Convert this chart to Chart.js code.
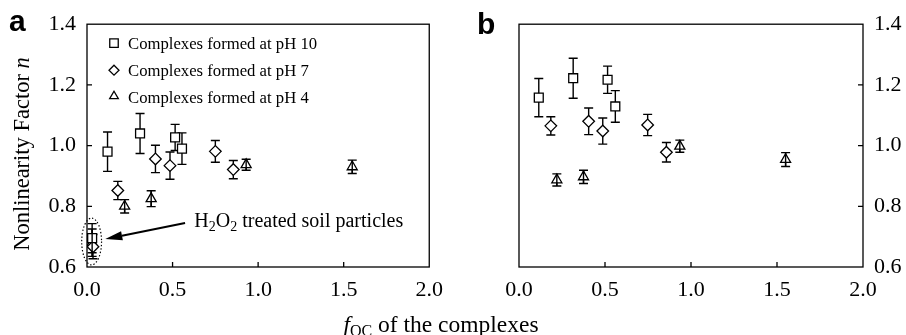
<!DOCTYPE html>
<html>
<head>
<meta charset="utf-8">
<script src="https://cdn.jsdelivr.net/npm/chart.js@4.4.1/dist/chart.umd.min.js"></script>
<style>
html,body{margin:0;padding:0;background:#fff;}
#wrap{position:relative;width:906px;height:335px;overflow:hidden;background:#fff;}
canvas{position:absolute;top:0;}
#ca{left:0;}
#cb{left:453px;}
#xt{position:absolute;left:-12px;width:906px;top:313px;text-align:center;font-family:"Liberation Serif",serif;font-size:23.5px;line-height:22px;color:#000;white-space:nowrap;}
#xt sub{font-size:16px;vertical-align:-4px;line-height:0;}
</style>
</head>
<body>
<div id="wrap">
<canvas id="ca" width="453" height="335"></canvas>
<canvas id="cb" width="453" height="335"></canvas>
<div id="xt"><i>f</i><sub>OC</sub> of the complexes</div>
</div>
<script>
// ---- tick labels ----
const xTicks = [0.0, 0.5, 1.0, 1.5, 2.0];
const yTicks = [0.6, 0.8, 1.0, 1.2, 1.4];

// ---- series labels ----
const seriesNames = ["Complexes formed at pH 10", "Complexes formed at pH 7", "Complexes formed at pH 4"];

// ---- panel a ----
const a_pH10_x   = [0.03, 0.12, 0.31, 0.515, 0.555];
const a_pH10_n   = [0.695, 0.98, 1.04, 1.027, 0.99];
const a_pH10_err = [0.048, 0.065, 0.066, 0.043, 0.052];

const a_pH7_x    = [0.035, 0.18, 0.40, 0.485, 0.75, 0.855];
const a_pH7_n    = [0.667, 0.852, 0.956, 0.934, 0.981, 0.921];
const a_pH7_err  = [0.04, 0.03, 0.045, 0.045, 0.036, 0.03];

const a_pH4_x    = [0.03, 0.22, 0.375, 0.93, 1.55];
const a_pH4_n    = [0.68, 0.80, 0.825, 0.937, 0.93];
const a_pH4_err  = [0.045, 0.022, 0.026, 0.018, 0.022];

// ---- panel b ----
const b_pH10_x   = [0.115, 0.315, 0.515, 0.56];
const b_pH10_n   = [1.158, 1.222, 1.217, 1.129];
const b_pH10_err = [0.063, 0.066, 0.045, 0.052];

const b_pH7_x    = [0.185, 0.405, 0.487, 0.748, 0.857];
const b_pH7_n    = [1.065, 1.08, 1.048, 1.068, 0.978];
const b_pH7_err  = [0.03, 0.044, 0.043, 0.035, 0.032];

const b_pH4_x    = [0.22, 0.375, 0.935, 1.55];
const b_pH4_n    = [0.887, 0.897, 0.998, 0.954];
const b_pH4_err  = [0.02, 0.022, 0.02, 0.023];

// ---- annotation (panel a) in data units ----
const noteAnchor = {x: 0.627, y: 0.731};
const arrowFrom  = {x: 0.573, y: 0.745};
const arrowTo    = {x: 0.107, y: 0.692};
const ellipseC   = {x: 0.027, y: 0.684, rx: 0.058, ry: 0.077};

const SERIF = '"Liberation Serif", "Times New Roman", serif';
const styles = ['rect', 'rectRot', 'triangle'];
const radii = [6.3, 5.8, 5.8];

function pts(xs, ys){ return xs.map((v,i)=>({x:v, y:ys[i]})); }
function makeDs(xs, ys, errs, k){
  return {
    label: seriesNames[k],
    data: pts(xs, ys),
    errors: errs,
    showLine: false,
    pointStyle: styles[k],
    pointRadius: radii[k],
    pointHoverRadius: radii[k],
    pointBorderWidth: 1.3,
    borderColor: '#000',
    backgroundColor: '#fff'
  };
}

function drawErr(chart, onlyStem, filter){
  const ctx = chart.ctx, xs = chart.scales.x, ys = chart.scales.y;
  ctx.save();
  ctx.strokeStyle = '#000';
  ctx.lineWidth = 1.4;
  chart.data.datasets.forEach((ds, k)=>{
    if (!filter(k)) return;
    ds.data.forEach((p,i)=>{
      const e = ds.errors[i];
      const px = xs.getPixelForValue(p.x);
      const y1 = ys.getPixelForValue(p.y + e), y2 = ys.getPixelForValue(p.y - e);
      ctx.beginPath();
      ctx.moveTo(px, y1); ctx.lineTo(px, y2);
      if (!onlyStem){
        ctx.moveTo(px-4.5, y1); ctx.lineTo(px+4.5, y1);
        ctx.moveTo(px-4.5, y2); ctx.lineTo(px+4.5, y2);
      }
      ctx.stroke();
    });
  });
  ctx.restore();
}

const errBars = {
  id: 'errBars',
  beforeDatasetsDraw(chart){ drawErr(chart, false, ()=>true); },
  afterDatasetsDraw(chart){ drawErr(chart, true, k=>k===2); }
};

function drawMarker(ctx, style, x, y, r){
  ctx.beginPath();
  if (style === 'rect'){
    const s = r*Math.SQRT1_2;
    ctx.rect(x-s, y-s, 2*s, 2*s);
  } else if (style === 'rectRot'){
    ctx.moveTo(x, y-r); ctx.lineTo(x+r, y); ctx.lineTo(x, y+r); ctx.lineTo(x-r, y); ctx.closePath();
  } else {
    ctx.moveTo(x, y-r);
    ctx.lineTo(x + r*Math.sin(2*Math.PI/3), y - r*Math.cos(2*Math.PI/3));
    ctx.lineTo(x - r*Math.sin(2*Math.PI/3), y - r*Math.cos(2*Math.PI/3));
    ctx.closePath();
  }
  ctx.fillStyle = '#fff'; ctx.fill();
  ctx.lineWidth = 1.3; ctx.strokeStyle = '#000'; ctx.stroke();
}

const frame = {
  id: 'frame',
  afterDraw(chart, args, opts){
    const ctx = chart.ctx, ca = chart.chartArea;
    const xs = chart.scales.x, ys = chart.scales.y;
    ctx.save();
    ctx.strokeStyle = '#000';
    ctx.lineWidth = 1.3;
    ctx.strokeRect(ca.left, ca.top, ca.right-ca.left, ca.bottom-ca.top);
    // inward ticks
    ctx.beginPath();
    xTicks.slice(1, -1).forEach(v=>{
      const px = xs.getPixelForValue(v);
      ctx.moveTo(px, ca.bottom); ctx.lineTo(px, ca.bottom-5);
    });
    yTicks.slice(1, -1).forEach(v=>{
      const py = ys.getPixelForValue(v);
      if (opts.side === 'left'){ ctx.moveTo(ca.left, py); ctx.lineTo(ca.left+5, py); }
      else { ctx.moveTo(ca.right, py); ctx.lineTo(ca.right-5, py); }
    });
    ctx.stroke();

    // panel letter
    ctx.fillStyle = '#000';
    ctx.font = 'bold 30px "Liberation Sans", Arial, sans-serif';
    ctx.textBaseline = 'alphabetic';
    ctx.textAlign = 'left';
    ctx.fillText(opts.letter, opts.letterX, opts.letterY);

    if (opts.side === 'left'){
      // y title
      ctx.save();
      ctx.translate(29, 154);
      ctx.rotate(-Math.PI/2);
      const f1 = '22.5px ' + SERIF, f2 = 'italic 22.5px ' + SERIF;
      const t1 = 'Nonlinearity Factor ', t2 = 'n';
      ctx.font = f1; const w1 = ctx.measureText(t1).width;
      ctx.font = f2; const w2 = ctx.measureText(t2).width;
      let x0 = -(w1+w2)/2;
      ctx.font = f1; ctx.fillText(t1, x0, 0);
      ctx.font = f2; ctx.fillText(t2, x0+w1, 0);
      ctx.restore();

      // legend
      const lx = ca.left + 27, tx = ca.left + 41;
      const lys = [ca.top+19, ca.top+46, ca.top+73];
      ctx.font = '16.7px ' + SERIF;
      ctx.textBaseline = 'middle';
      seriesNames.forEach((nm,k)=>{
        drawMarker(ctx, styles[k], lx, lys[k] - (k===2?1:0), k===0?6:5);
        ctx.fillStyle = '#000';
        ctx.fillText(nm, tx, lys[k]+1);
      });

      // annotation text with subscripts
      ctx.textBaseline = 'alphabetic';
      let ax = xs.getPixelForValue(noteAnchor.x), ay = ys.getPixelForValue(noteAnchor.y);
      const parts = [['H',0],['2',1],['O',0],['2',1],[' treated soil particles',0]];
      parts.forEach(([s,sub])=>{
        ctx.font = (sub ? '14px ' : '20px ') + SERIF;
        ctx.fillText(s, ax, ay + (sub ? 4 : 0));
        ax += ctx.measureText(s).width;
      });

      // arrow
      const fx = xs.getPixelForValue(arrowFrom.x), fy = ys.getPixelForValue(arrowFrom.y);
      const hx = xs.getPixelForValue(arrowTo.x), hy = ys.getPixelForValue(arrowTo.y);
      const ang = Math.atan2(hy-fy, hx-fx);
      const L = 17, W = 4.5;
      const bx = hx - L*Math.cos(ang), by = hy - L*Math.sin(ang);
      ctx.lineWidth = 2;
      ctx.beginPath(); ctx.moveTo(fx, fy); ctx.lineTo(bx, by); ctx.stroke();
      ctx.beginPath();
      ctx.moveTo(hx, hy);
      ctx.lineTo(bx + W*Math.sin(ang), by - W*Math.cos(ang));
      ctx.lineTo(bx - W*Math.sin(ang), by + W*Math.cos(ang));
      ctx.closePath(); ctx.fill();

      // dotted ellipse
      const ex = xs.getPixelForValue(ellipseC.x), ey = ys.getPixelForValue(ellipseC.y);
      const erx = xs.getPixelForValue(ellipseC.x + ellipseC.rx) - ex;
      const ery = ey - ys.getPixelForValue(ellipseC.y + ellipseC.ry);
      ctx.setLineDash([1.4, 2]);
      ctx.lineWidth = 1.2;
      ctx.beginPath(); ctx.ellipse(ex, ey, erx, ery, 0, 0, Math.PI*2); ctx.stroke();
      ctx.setLineDash([]);
    }
    ctx.restore();
  }
};

function makeChart(id, datasets, side, padding, yWidth, letter, lx, ly){
  return new Chart(document.getElementById(id), {
    type: 'scatter',
    data: { datasets },
    options: {
      responsive: false,
      devicePixelRatio: 1,
      animation: false,
      events: [],
      layout: { padding },
      plugins: {
        legend: { display: false },
        tooltip: { enabled: false },
        frame: { side, letter, letterX: lx, letterY: ly }
      },
      scales: {
        x: {
          type: 'linear', min: 0, max: 2,
          afterBuildTicks: s => { s.ticks = xTicks.map(v=>({value:v})); },
          afterFit: s => { s.height = 68; },
          grid: { display: false, drawTicks: false },
          border: { display: false },
          ticks: { color: '#000', padding: 10, font: { family: SERIF, size: 22 }, callback: v => Number(v).toFixed(1), maxRotation: 0 }
        },
        y: {
          type: 'linear', min: 0.6, max: 1.4, position: side,
          afterBuildTicks: s => { s.ticks = yTicks.map(v=>({value:v})); },
          afterFit: s => { s.width = yWidth; },
          grid: { display: false, drawTicks: false },
          border: { display: false },
          ticks: { color: '#000', padding: 11, font: { family: SERIF, size: 22 }, callback: v => Number(v).toFixed(1) }
        }
      }
    },
    plugins: [errBars, frame]
  });
}

makeChart('ca', [
  makeDs(a_pH10_x, a_pH10_n, a_pH10_err, 0),
  makeDs(a_pH7_x, a_pH7_n, a_pH7_err, 1),
  makeDs(a_pH4_x, a_pH4_n, a_pH4_err, 2)
], 'left', {left: 0, right: 23, top: 23, bottom: 0}, 87, 'a', 9, 31);

makeChart('cb', [
  makeDs(b_pH10_x, b_pH10_n, b_pH10_err, 0),
  makeDs(b_pH7_x, b_pH7_n, b_pH7_err, 1),
  makeDs(b_pH4_x, b_pH4_n, b_pH4_err, 2)
], 'right', {left: 66, right: 0, top: 23, bottom: 0}, 43, 'b', 24, 34);
</script>
</body>
</html>
